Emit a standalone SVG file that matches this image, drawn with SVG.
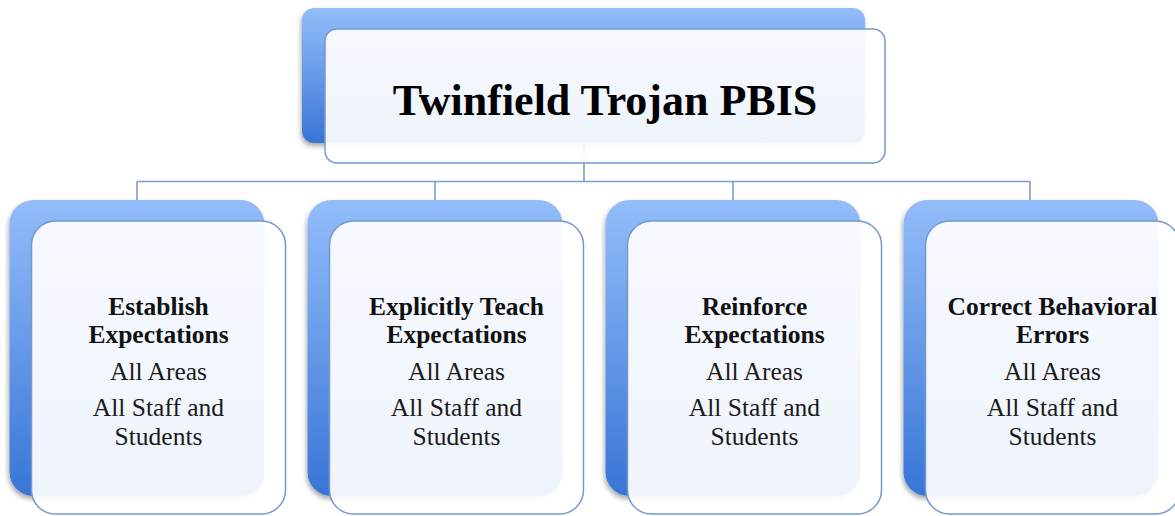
<svg xmlns="http://www.w3.org/2000/svg" width="1175" height="516" viewBox="0 0 1175 516">
  <defs>
    <linearGradient id="backFill" x1="0" y1="0" x2="0" y2="1">
      <stop offset="0" stop-color="#93bdfa"/>
      <stop offset="1" stop-color="#3875d6"/>
    </linearGradient>
    <filter id="softShadow" x="-10%" y="-10%" width="120%" height="125%">
      <feGaussianBlur in="SourceAlpha" stdDeviation="2.5"/>
      <feOffset dx="-1" dy="3" result="blur"/>
      <feComponentTransfer><feFuncA type="linear" slope="0.35"/></feComponentTransfer>
      <feMerge><feMergeNode/><feMergeNode in="SourceGraphic"/></feMerge>
    </filter>
  </defs>
  <style>
    .back { fill: url(#backFill); filter: url(#softShadow); }
    .front { fill: #ffffff; fill-opacity: 0.92; stroke: #7399cf; stroke-width: 1.5; }
    .link { fill: none; stroke: #7f9cc6; stroke-width: 1.6; }
    .title { font-family: "Liberation Serif", "Times New Roman", serif; font-weight: bold; font-size: 44px; fill: #000; text-anchor: middle; }
    .head { font-family: "Liberation Serif", "Times New Roman", serif; font-weight: bold; font-size: 25.5px; fill: #111; text-anchor: middle; }
    .body { font-family: "Liberation Serif", "Times New Roman", serif; font-size: 25.5px; fill: #1a1a1a; text-anchor: middle; }
  </style>

  <rect width="1175" height="516" fill="#ffffff"/>

  <!-- tree connectors -->
  <g id="connectors">
    <path class="link" d="M584 140 V181.5"/>
    <path class="link" d="M137 181.5 H1030"/>
    <path class="link" d="M137 181.5 V202"/>
    <path class="link" d="M435 181.5 V202"/>
    <path class="link" d="M733 181.5 V202"/>
    <path class="link" d="M1030 181.5 V202"/>
  </g>

  <!-- root -->
  <g id="root">
    <rect class="back" x="302" y="8" width="563" height="135" rx="12"/>
    <rect class="front" x="325" y="29" width="560" height="134" rx="12"/>
    <text class="title" x="605" y="115">Twinfield Trojan PBIS</text>
  </g>

  <!-- child nodes -->
  <g id="establish">
    <rect class="back" x="9.5" y="200" width="255" height="296" rx="24"/>
    <rect class="front" x="31.5" y="221" width="254" height="293" rx="24"/>
    <text class="head" x="158.5" y="315">Establish</text>
    <text class="head" x="158.5" y="343">Expectations</text>
    <text class="body" x="158.5" y="380">All Areas</text>
    <text class="body" x="158.5" y="416">All Staff and</text>
    <text class="body" x="158.5" y="445">Students</text>
  </g>

  <g id="teach">
    <rect class="back" x="307.5" y="200" width="255" height="296" rx="24"/>
    <rect class="front" x="329.5" y="221" width="254" height="293" rx="24"/>
    <text class="head" x="456.5" y="315">Explicitly Teach</text>
    <text class="head" x="456.5" y="343">Expectations</text>
    <text class="body" x="456.5" y="380">All Areas</text>
    <text class="body" x="456.5" y="416">All Staff and</text>
    <text class="body" x="456.5" y="445">Students</text>
  </g>

  <g id="reinforce">
    <rect class="back" x="605.5" y="200" width="255" height="296" rx="24"/>
    <rect class="front" x="627.5" y="221" width="254" height="293" rx="24"/>
    <text class="head" x="754.5" y="315">Reinforce</text>
    <text class="head" x="754.5" y="343">Expectations</text>
    <text class="body" x="754.5" y="380">All Areas</text>
    <text class="body" x="754.5" y="416">All Staff and</text>
    <text class="body" x="754.5" y="445">Students</text>
  </g>

  <g id="correct">
    <rect class="back" x="903.5" y="200" width="255" height="296" rx="24"/>
    <rect class="front" x="925.5" y="221" width="254" height="293" rx="24"/>
    <text class="head" x="1052.5" y="315">Correct Behavioral</text>
    <text class="head" x="1052.5" y="343">Errors</text>
    <text class="body" x="1052.5" y="380">All Areas</text>
    <text class="body" x="1052.5" y="416">All Staff and</text>
    <text class="body" x="1052.5" y="445">Students</text>
  </g>
</svg>
